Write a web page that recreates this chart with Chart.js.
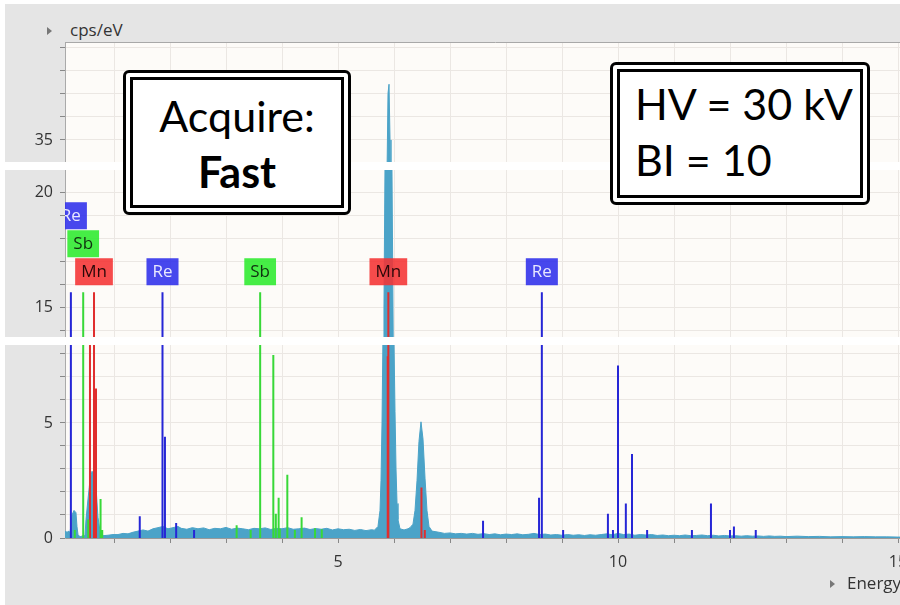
<!DOCTYPE html>
<html>
<head>
<meta charset="utf-8">
<script src="https://cdn.jsdelivr.net/npm/chart.js@4.4.1/dist/chart.umd.min.js"></script>
<style>
body { margin: 0; width: 900px; height: 605px; overflow: hidden; background: #fff; position: relative; font-family: "Open Sans", sans-serif; }
#panel { position: absolute; left: 5px; top: 4px; width: 895px; height: 601px; background: #e5e5e5; }
canvas { position: absolute; left: 0; }
.gap { position: absolute; left: 5px; width: 895px; height: 8px; background: #fff; }
.axisname { position: absolute; font-size: 17px; color: #333; white-space: nowrap; }
.arrow { position: absolute; width: 0; height: 0; border-top: 4px solid transparent; border-bottom: 4px solid transparent; border-left: 5px solid #777; }
.note { position: absolute; box-sizing: border-box; border: 10px double #000; border-radius: 6px; background: #fff; font-family: Lato, sans-serif; font-size: 43px; line-height: 56px; color: #000; white-space: nowrap; }
</style>
</head>
<body>
<div id="panel"></div>
<canvas id="chart_top" width="926" height="120" style="top:42px"></canvas>
<canvas id="chart_mid" width="926" height="167" style="top:170px"></canvas>
<canvas id="chart_low" width="926" height="240" style="top:345px"></canvas>
<div class="gap" style="top:162px"></div>
<div class="gap" style="top:337px"></div>
<div class="arrow" style="left:47px; top:27px"></div>
<div class="axisname" style="left:70px; top:18px">cps/eV</div>
<div class="arrow" style="left:830px; top:580px"></div>
<div class="axisname" style="left:847px; top:571px">Energy</div>
<div class="note" style="left:123px; top:70px; width:228px; height:145px; text-align:center; padding-top:8px">Acquire:<br><b>Fast</b></div>
<div class="note" style="left:610px; top:62px; width:260px; height:143px; padding:4px 0 0 15px">HV = 30 kV<br>BI = 10</div>

<script>
// DATA
// spectrum: [energy keV, cps/eV]
const spectrum = [
  [0.125,0.3],[0.161,0.25],[0.196,0.3],[0.214,0.2],[0.25,1.0],[0.286,1.2],[0.321,1.1],[0.339,0.5],
  [0.357,0.15],[0.393,0.05],[0.446,0.1],[0.482,0.1],[0.5,0.8],[0.536,1.7],[0.571,2.5],[0.607,2.9],
  [0.643,2.8],[0.679,2.2],[0.714,0.9],[0.75,0.3],[0.804,0.1],[0.893,0.12],[0.982,0.15],[1.071,0.15],
  [1.161,0.2],[1.25,0.18],[1.339,0.25],[1.429,0.3],[1.518,0.35],[1.607,0.3],[1.696,0.4],[1.786,0.45],
  [1.875,0.5],[1.964,0.4],[2.054,0.45],[2.143,0.5],
  [2.2,0.42],[2.3,0.38],[2.4,0.45],[2.5,0.4],[2.6,0.44],[2.7,0.36],[2.8,0.42],[2.9,0.4],[3.0,0.46],
  [3.1,0.38],[3.2,0.43],[3.3,0.4],[3.4,0.36],[3.5,0.42],[3.6,0.4],[3.7,0.44],[3.8,0.37],[3.9,0.42],
  [4.0,0.4],[4.1,0.45],[4.2,0.38],[4.3,0.4],[4.4,0.43],[4.5,0.37],[4.6,0.41],[4.7,0.38],[4.8,0.42],
  [4.9,0.35],[5.0,0.4],[5.1,0.36],[5.2,0.38],[5.3,0.33],[5.4,0.37],[5.5,0.32],[5.6,0.36],[5.65,0.34],
  [5.714,0.5],[5.75,1.2],[5.768,2.5],[5.786,5],[5.804,9],[5.821,15],[5.839,21],[5.857,27],[5.875,33.5],
  [5.893,37],[5.911,37.4],[5.929,35],[5.946,28],[5.964,21],[5.982,15],[6.0,8.5],[6.018,5.5],[6.036,3],
  [6.054,1.5],[6.071,0.8],[6.107,0.4],[6.179,0.35],[6.25,0.4],
  [6.286,0.45],[6.339,0.6],[6.375,1.2],[6.411,2.5],[6.446,4.2],[6.482,5.05],[6.518,4.3],[6.554,2.6],
  [6.589,1.2],[6.625,0.5],[6.679,0.3],
  [6.8,0.25],[6.9,0.2],[7.0,0.22],[7.1,0.18],[7.2,0.2],[7.3,0.17],[7.4,0.2],[7.5,0.16],[7.6,0.19],
  [7.7,0.15],[7.8,0.18],[7.9,0.14],[8.0,0.17],[8.1,0.15],[8.2,0.18],[8.3,0.14],[8.4,0.16],[8.5,0.2],
  [8.6,0.15],[8.7,0.17],[8.8,0.13],[8.9,0.15],[9.0,0.12],[9.1,0.15],[9.2,0.12],[9.3,0.14],[9.4,0.11],
  [9.5,0.14],[9.6,0.12],[9.7,0.15],[9.8,0.18],[9.9,0.14],[10.0,0.2],[10.1,0.15],[10.2,0.17],[10.3,0.12],
  [10.4,0.15],[10.5,0.13],[10.6,0.15],[10.7,0.11],[10.8,0.13],[10.9,0.1],[11.0,0.12],[11.1,0.1],
  [11.2,0.13],[11.3,0.1],[11.4,0.11],[11.5,0.13],[11.6,0.1],[11.7,0.12],[11.8,0.09],[11.9,0.11],
  [12.0,0.09],[12.1,0.1],[12.2,0.08],[12.3,0.1],[12.4,0.08],[12.5,0.09],[12.6,0.07],[12.7,0.09],
  [12.8,0.07],[12.9,0.08],[13.0,0.06],[13.2,0.08],[13.4,0.06],[13.6,0.07],[13.8,0.05],[14.0,0.06],
  [14.2,0.05],[14.4,0.06],[14.6,0.05],[14.8,0.05],[15.0,0.04],[15.5,0.04]
];

// element marker lines (keV / height)
const reEnergy = [0.23, 1.46, 1.866, 1.91, 2.11, 2.43, 7.59, 8.59, 8.64, 9.02, 9.82, 9.91, 10.0, 10.14, 10.25, 10.52, 11.32, 11.66, 12.0, 12.07, 12.46];
const reHeight = [15.65, 0.95, 15.65, 4.4, 0.65, 0.35, 0.75, 1.75, 15.65, 0.35, 1.05, 0.35, 7.5, 1.5, 3.65, 0.35, 0.35, 1.5, 0.35, 0.5, 0.35];
const sbEnergy = [0.30, 0.45, 0.54, 0.76, 0.79, 3.19, 3.44, 3.61, 3.845, 3.89, 3.94, 3.96, 4.095, 4.23, 4.35, 4.59, 4.71];
const sbHeight = [0.35, 15.65, 0.8, 1.7, 0.35, 0.55, 0.35, 15.65, 7.95, 1.05, 1.75, 0.4, 2.75, 0.35, 0.9, 0.42, 0.38];
const mnEnergy = [0.571, 0.643, 0.679, 5.888, 5.899, 6.49, 6.55];
const mnHeight = [10, 15.65, 6.5, 7.9, 15.65, 2.2, 0.35];

// element tags
const tagText = ['Re', 'Sb', 'Mn', 'Re', 'Sb', 'Mn', 'Re'];
const tagEnergy = [0.23, 0.45, 0.643, 1.866, 3.61, 5.899, 8.64];
const tagRow = [2, 1, 0, 0, 0, 0, 0];
const tagBase = 15.95;

// axes
const xMin = 0.125, xMax = 15.5;
const xLabels = [5, 10, 15];
const yLabels = [0, 5, 15, 20, 35];
const topBand = [34.05, 39.22];
const midBand = [13.70, 20.96];
const lowBand = [0, 8.39];


// STYLE
const BG = '#fdfbf8';
const GRID = '#ebe7e3';
const FONT = { family: 'Open Sans', size: 16 };
const tagColors = {
  Re: { bg: 'rgba(45,45,235,0.88)', fg: '#e8e8ff' },
  Sb: { bg: 'rgba(50,235,50,0.9)', fg: '#103010' },
  Mn: { bg: 'rgba(245,50,50,0.88)', fg: '#2a0808' }
};


// PLUGINS
const plotBg = {
  id: 'plotBg',
  beforeDraw(chart) {
    const a = chart.chartArea, ctx = chart.ctx;
    ctx.save();
    ctx.fillStyle = BG;
    ctx.fillRect(a.left, a.top, a.right - a.left, a.bottom - a.top);
    ctx.restore();
  }
};

const topLine = {
  id: 'topLine',
  afterDraw(chart) {
    const a = chart.chartArea, ctx = chart.ctx;
    ctx.save();
    ctx.strokeStyle = '#a8a8a8';
    ctx.lineWidth = 1;
    ctx.beginPath();
    ctx.moveTo(a.left, a.top + 0.5);
    ctx.lineTo(a.right, a.top + 0.5);
    ctx.stroke();
    ctx.restore();
  }
};

const elementTags = {
  id: 'elementTags',
  afterDatasetsDraw(chart) {
    const ctx = chart.ctx, a = chart.chartArea;
    const xs = chart.scales.x, ys = chart.scales.y;
    const base = ys.getPixelForValue(tagBase);
    ctx.save();
    ctx.beginPath();
    ctx.rect(a.left, a.top, a.right - a.left, a.bottom - a.top);
    ctx.clip();
    ctx.font = '17px "Open Sans"';
    ctx.textAlign = 'center';
    ctx.textBaseline = 'middle';
    for (let i = 0; i < tagText.length; i++) {
      const c = tagColors[tagText[i]];
      const w = ctx.measureText(tagText[i]).width + 12;
      const cx = xs.getPixelForValue(tagEnergy[i]);
      const bottom = base - tagRow[i] * 28;
      ctx.fillStyle = c.bg;
      ctx.fillRect(cx - w / 2, bottom - 27, w, 27);
      ctx.fillStyle = c.fg;
      ctx.fillText(tagText[i], cx, bottom - 13);
    }
    ctx.restore();
  }
};


// CHARTS
function markerData(es, hs) {
  const d = [];
  for (let i = 0; i < es.length; i++) {
    d.push({ x: es[i], y: 0 }, { x: es[i], y: hs[i] }, { x: es[i], y: null });
  }
  return d;
}

function markerSet(es, hs, color) {
  return {
    data: markerData(es, hs),
    borderColor: color,
    borderWidth: 2,
    pointRadius: 0,
    fill: false,
    spanGaps: false
  };
}

function makeChart(id, band, bottomAxis, extra) {
  return new Chart(document.getElementById(id), {
    type: 'line',
    data: {
      datasets: [
        markerSet(reEnergy, reHeight, '#2626d6'),
        markerSet(sbEnergy, sbHeight, '#38d838'),
        markerSet(mnEnergy, mnHeight, '#e02e2e'),
        {
          data: spectrum.map(p => ({ x: p[0], y: p[1] })),
          borderColor: '#4ba3c8',
          backgroundColor: '#4ba3c8',
          borderWidth: 1,
          pointRadius: 0,
          tension: 0,
          fill: 'start'
        }
      ]
    },
    options: {
      responsive: false,
      animation: false,
      layout: { padding: 0, autoPadding: false },
      plugins: { legend: { display: false }, tooltip: { enabled: false } },
      scales: {
        x: {
          type: 'linear',
          min: xMin,
          max: xMax,
          border: { display: bottomAxis, color: '#999' },
          grid: { color: GRID, drawTicks: bottomAxis, tickLength: 5, tickColor: '#888' },
          ticks: {
            display: bottomAxis, stepSize: 1, includeBounds: false, autoSkip: false, maxRotation: 0,
            padding: 10, color: '#333', font: FONT,
            callback: v => xLabels.includes(v) ? String(v) : ''
          },
          afterFit: s => { s.height = bottomAxis ? 47 : 0; s.paddingLeft = 0; s.paddingRight = 0; }
        },
        y: {
          type: 'linear',
          min: band[0],
          max: band[1],
          border: { display: true, color: '#aaa' },
          grid: { color: GRID, tickLength: 5, tickColor: '#888' },
          ticks: {
            stepSize: 1, includeBounds: false, autoSkip: false,
            padding: 7, color: '#333', font: FONT,
            callback: v => yLabels.includes(v) ? String(v) : ''
          },
          afterFit: s => { s.width = 65; s.paddingTop = 0; s.paddingBottom = 0; }
        }
      }
    },
    plugins: [plotBg].concat(extra)
  });
}

const chart_top = makeChart('chart_top', topBand, false, [topLine]);
const chart_mid = makeChart('chart_mid', midBand, false, [elementTags]);
const chart_low = makeChart('chart_low', lowBand, true, []);
</script>
</body>
</html>
